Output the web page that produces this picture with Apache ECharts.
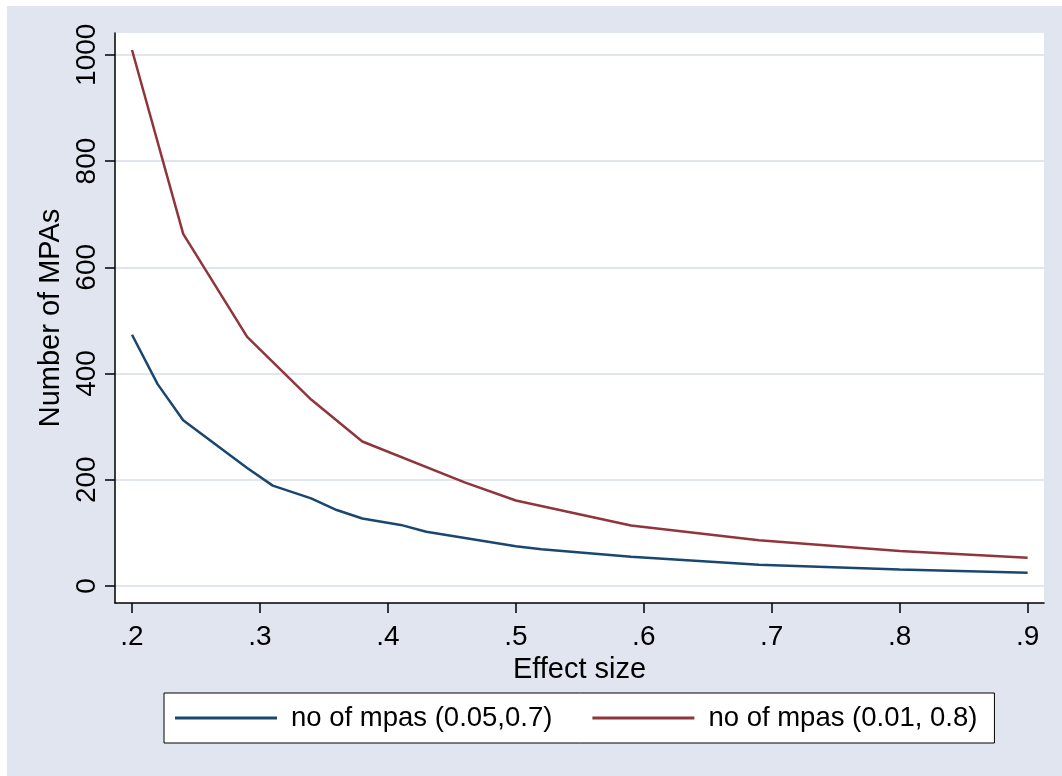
<!DOCTYPE html>
<html>
<head>
<meta charset="utf-8">
<script src="https://cdn.jsdelivr.net/npm/echarts@6/dist/echarts.min.js"></script>
<style>
  html, body { margin: 0; padding: 0; background: #ffffff; }
  #bg { position: absolute; left: 7px; top: 6px; width: 1055px; height: 770px; background: #E1E5F0; }
  #chart { position: absolute; left: 0; top: 0; width: 1062px; height: 776px; }
</style>
</head>
<body>
<div id="bg"></div>
<div id="chart"></div>
<script>
// Data
const blueX = [0.2, 0.22, 0.24, 0.29, 0.31, 0.34, 0.36, 0.38, 0.41, 0.43, 0.5, 0.52, 0.59, 0.69, 0.8, 0.9];
const blueY = [473, 380, 312, 222, 189, 165, 143, 127, 115, 102, 75, 69, 55, 40, 31, 25];
const redX = [0.2, 0.24, 0.29, 0.34, 0.38, 0.46, 0.5, 0.59, 0.69, 0.8, 0.9];
const redY = [1009, 663, 469, 351, 272, 195, 161, 114, 86, 66, 53];
const seriesNames = ['no of mpas (0.05,0.7)', 'no of mpas (0.01, 0.8)'];
const xTicks = [0.2, 0.3, 0.4, 0.5, 0.6, 0.7, 0.8, 0.9];
const yTicks = [0, 200, 400, 600, 800, 1000];
const xTitle = 'Effect size';
const yTitle = 'Number of MPAs';

const FONT = '"Liberation Sans", Arial, sans-serif';

const chart = echarts.init(document.getElementById('chart'), null, { renderer: 'canvas' });
const option = {
  animation: false,
  backgroundColor: 'transparent',
  textStyle: { fontFamily: FONT, color: '#000' },
  grid: {
    left: 115, right: 18, top: 33, bottom: 173,
    show: true, backgroundColor: '#ffffff', borderWidth: 0
  },
  legend: {
    left: 164, top: 693,
    padding: [11, 17, 11, 11],
    backgroundColor: '#ffffff',
    borderColor: '#000000', borderWidth: 1,
    itemWidth: 102, itemHeight: 3, itemGap: 40,
    icon: 'rect',
    textStyle: { fontFamily: FONT, fontSize: 27.5, color: '#000', padding: [0, 0, 0, 9] },
    data: seriesNames
  },
  xAxis: {
    type: 'value',
    min: 0.1867, max: 0.9128,
    name: xTitle, nameLocation: 'middle', nameGap: 41,
    nameTextStyle: { fontFamily: FONT, fontSize: 29, color: '#000' },
    axisLine: { show: true, onZero: false, lineStyle: { color: '#000', width: 1.5 } },
    axisTick: { show: true, length: 10, customValues: xTicks, lineStyle: { color: '#000', width: 1.5 } },
    axisLabel: {
      customValues: xTicks, margin: 20, fontFamily: FONT, fontSize: 28, color: '#000',
      formatter: v => String(Math.round(v * 10) / 10).replace(/^0\./, '.')
    },
    splitLine: { show: false }
  },
  yAxis: {
    type: 'value',
    min: -32, max: 1041,
    name: yTitle, nameLocation: 'middle', nameGap: 43,
    nameTextStyle: { fontFamily: FONT, fontSize: 29, color: '#000' },
    axisLine: { show: true, onZero: false, lineStyle: { color: '#000', width: 1.5 } },
    axisTick: { show: true, length: 10, customValues: yTicks, lineStyle: { color: '#000', width: 1.5 } },
    axisLabel: {
      customValues: yTicks, rotate: 90, margin: 14, fontFamily: FONT, fontSize: 28, color: '#000',
      formatter: v => String(Math.round(v))
    },
    splitLine: { show: true, lineStyle: { color: '#E1E5F0', width: 2 } }
  },
  series: [
    {
      name: seriesNames[0], type: 'line', symbol: 'none', smooth: false,
      data: blueX.map((x, i) => [x, blueY[i]]),
      lineStyle: { color: '#1A476F', width: 2.5 }, itemStyle: { color: '#1A476F' }
    },
    {
      name: seriesNames[1], type: 'line', symbol: 'none', smooth: false,
      data: redX.map((x, i) => [x, redY[i]]),
      lineStyle: { color: '#90353B', width: 2.5 }, itemStyle: { color: '#90353B' }
    }
  ]
};
chart.setOption(option);
</script>
</body>
</html>
